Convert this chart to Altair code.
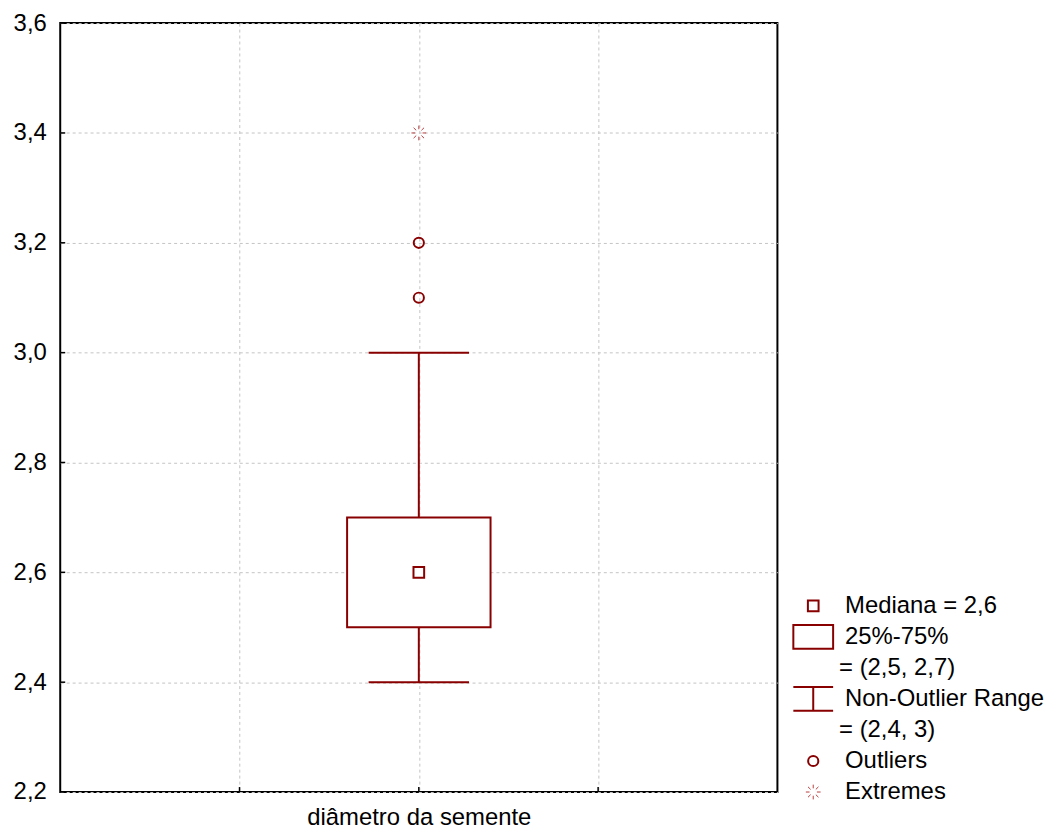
import math
import altair as alt
import pandas as pd

# ---------------- data ----------------
category = ["diâmetro da semente"]
cat_pos = [2]
q1 = [2.5]
q3 = [2.7]
median = [2.6]
whisker_low = [2.4]
whisker_high = [3.0]
outliers = [3.1, 3.2]
extremes = [3.4]
y_ticks = [2.2, 2.4, 2.6, 2.8, 3.0, 3.2, 3.4, 3.6]
x_ticks = [1, 2, 3]

legend_labels = ["Mediana = 2,6", "25%-75%", "= (2,5, 2,7)", "Non-Outlier Range",
                 "= (2,4, 3)", "Outliers", "Extremes"]
legend_symbols = ["median", "box", "", "whisker", "", "outlier", "extreme"]

# ---------------- styles ----------------
RED = "#880000"
FONT = "Liberation Sans"
FS = 24
BOX_HALF = 0.4
CAP_HALF = 0.28
W, H = 721, 773
LEG_W = 240
ROW_PX = 31.2
TICK = 5

def burst(inner=0.5, outer=1.0):
    parts = []
    for k in range(8):
        a = math.radians(45 * k)
        parts.append("M%.3f,%.3fL%.3f,%.3f" % (inner * math.cos(a), inner * math.sin(a),
                                             outer * math.cos(a), outer * math.sin(a)))
    return "".join(parts)

BURST = burst()
BOX_PATH = "M-1,-0.6H1V0.6H-1Z"
WHISK_PATH = "M-1,-0.6H1M0,-0.6V0.6M-1,0.6H1"

box_df = pd.DataFrame({
    "cat": category, "x": cat_pos, "q1": q1, "q3": q3, "med": median,
    "lo": whisker_low, "hi": whisker_high,
})
box_df["xl"] = box_df["x"] - BOX_HALF
box_df["xr"] = box_df["x"] + BOX_HALF
box_df["cl"] = box_df["x"] - CAP_HALF
box_df["cr"] = box_df["x"] + CAP_HALF
out_df = pd.DataFrame({"x": cat_pos * len(outliers), "y": outliers})
ext_df = pd.DataFrame({"x": cat_pos * len(extremes), "y": extremes})
ytick_df = pd.DataFrame({"y": y_ticks})
xtick_df = pd.DataFrame({"x": x_ticks})

xs = alt.Scale(domain=[0, 4], nice=False, zero=False)
ys = alt.Scale(domain=[2.2, 3.6], nice=False, zero=False)

x_axis = alt.Axis(values=x_ticks, labels=False, ticks=False, domain=False, grid=True,
                  gridDash=[3, 3], gridColor="#c4c4c4", title=category[0],
                  titleFont=FONT, titleFontSize=FS, titleFontWeight="normal",
                  titleColor="black", titlePadding=14)
y_axis = alt.Axis(values=y_ticks, ticks=False, domain=False, grid=True,
                  gridDash=[3, 3], gridColor="#c4c4c4", title=None,
                  labelExpr="replace(format(datum.value, '.1f'), '.', ',')",
                  labelFont=FONT, labelFontSize=FS, labelColor="black", labelPadding=14)

base = alt.Chart(box_df)

whisk = base.mark_rule(color=RED, strokeWidth=2).encode(
    x=alt.X("x:Q", scale=xs, axis=x_axis),
    y=alt.Y("lo:Q", scale=ys, axis=y_axis),
    y2="hi:Q",
)
cap_lo = base.mark_rule(color=RED, strokeWidth=2).encode(
    x=alt.X("cl:Q", scale=xs), x2="cr:Q", y=alt.Y("lo:Q", scale=ys))
cap_hi = base.mark_rule(color=RED, strokeWidth=2).encode(
    x=alt.X("cl:Q", scale=xs), x2="cr:Q", y=alt.Y("hi:Q", scale=ys))
box = base.mark_rect(fill="white", stroke=RED, strokeWidth=2).encode(
    x=alt.X("xl:Q", scale=xs), x2="xr:Q",
    y=alt.Y("q1:Q", scale=ys), y2="q3:Q")
med = base.mark_point(shape="square", size=115, filled=False, fill="white",
                      color=RED, strokeWidth=2, opacity=1).encode(
    x=alt.X("x:Q", scale=xs), y=alt.Y("med:Q", scale=ys))
outl = alt.Chart(out_df).mark_point(shape="circle", size=105, filled=False,
                                     color=RED, strokeWidth=2, opacity=1).encode(
    x=alt.X("x:Q", scale=xs), y=alt.Y("y:Q", scale=ys))
extr = alt.Chart(ext_df).mark_point(shape=BURST, size=220, filled=False,
                                     color="#b84040", strokeWidth=1, opacity=1).encode(
    x=alt.X("x:Q", scale=xs), y=alt.Y("y:Q", scale=ys))

# small inward ticks
yticks = alt.Chart(ytick_df).mark_rule(color="black", strokeWidth=1.5).encode(
    y=alt.Y("y:Q", scale=ys), x=alt.value(0), x2=alt.value(TICK))
xticks = alt.Chart(xtick_df).mark_rule(color="black", strokeWidth=1.5).encode(
    x=alt.X("x:Q", scale=xs), y=alt.value(H), y2=alt.value(H - TICK))

main = alt.layer(whisk, cap_lo, cap_hi, box, med, outl, extr, yticks, xticks).properties(
    width=W, height=H, view=alt.ViewBackground(stroke="black", strokeWidth=2))

# ---------------- legend panel ----------------
n = len(legend_labels)
leg_df = pd.DataFrame({"label": legend_labels, "sym": legend_symbols})
leg_df["row"] = [n - 1 - i for i in range(n)]
lys = alt.Scale(domain=[0, H / ROW_PX], nice=False, zero=False)
lb = alt.Chart(leg_df)

def sym_layer(name, **kw):
    return lb.transform_filter(alt.datum.sym == name).mark_point(
        color=kw.pop("color", RED), opacity=1, filled=False, **kw).encode(
        x=alt.value(25), y=alt.Y("row:Q", scale=lys, axis=None))

leg_layers = [
    sym_layer("median", shape="square", size=115, strokeWidth=2),
    sym_layer("box", shape=BOX_PATH, size=1600, strokeWidth=2),
    sym_layer("whisker", shape=WHISK_PATH, size=1600, strokeWidth=2),
    sym_layer("outlier", shape="circle", size=105, strokeWidth=2),
    sym_layer("extreme", shape=BURST, size=220, strokeWidth=1, color="#b84040"),
    lb.transform_filter(alt.datum.sym != "").mark_text(
        align="left", baseline="middle", font=FONT, fontSize=FS, color="black").encode(
        x=alt.value(57), y=alt.Y("row:Q", scale=lys, axis=None), text="label:N"),
    lb.transform_filter(alt.datum.sym == "").mark_text(
        align="left", baseline="middle", font=FONT, fontSize=FS, color="black").encode(
        x=alt.value(51), y=alt.Y("row:Q", scale=lys, axis=None), text="label:N"),
]
legend = alt.layer(*leg_layers).properties(
    width=LEG_W, height=H, view=alt.ViewBackground(stroke=None))

chart = alt.hconcat(main, legend, spacing=10).properties(
    padding={"left": 3.5, "top": 0, "right": 0, "bottom": 0})

chart.save("out.html", embed_options={"renderer": "svg", "actions": False})
